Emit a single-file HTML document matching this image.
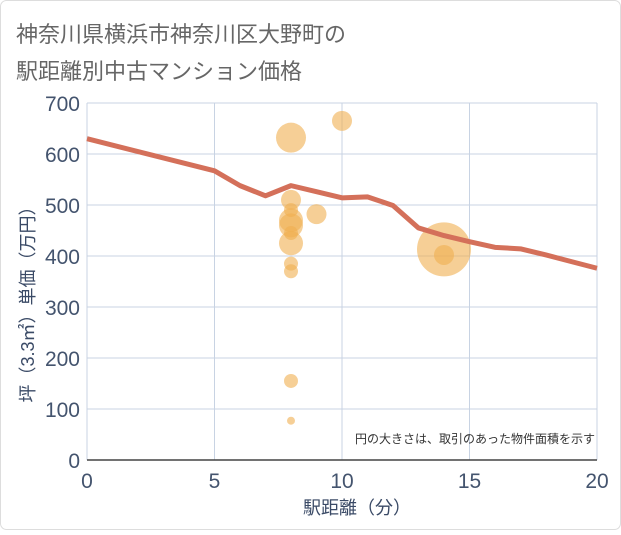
<!DOCTYPE html>
<html><head><meta charset="utf-8"><style>
body{margin:0;background:#fff;}
svg text{font-family:"Liberation Sans","Noto Sans CJK JP",sans-serif;}
</style></head><body>
<svg width="621" height="530" viewBox="0 0 621 530">
<rect x="0.5" y="0.5" width="620" height="529" rx="6" fill="#fff" stroke="#ddd"/>
<text x="16" y="42" font-size="22" fill="#666">神奈川県横浜市神奈川区大野町の</text>
<text x="16" y="79" font-size="22" fill="#666">駅距離別中古マンション価格</text>
<g id="grid"></g>
<g id="bubbles"></g>
<g id="line"></g>
<g id="axes"></g>
<text x="595" y="443" font-size="12" fill="#333" text-anchor="end">円の大きさは、取引のあった物件面積を示す</text>
<text x="357" y="514" font-size="18" fill="#3a4a66" text-anchor="middle">駅距離（分）</text>
<text transform="translate(34,300) rotate(-90)" font-size="18" fill="#3a4a66" text-anchor="middle">坪（3.3㎡）単価（万円）</text>
</svg>
<script>
const xTicks=[0,5,10,15,20];
const yTicks=[0,100,200,300,400,500,600,700];
const lineX=[0,5,6,7,8,9,10,11,12,13,14,15,16,17,18,19,20];
const lineY=[630,567,538,518,538,526,514,516,499,455,440,428,417,414,402,389,376];
const bubX=[8,8,8,8,8,8,8,8,8,8,8,9,10,14,14];
const bubY=[632,510,490,470,460,445,425,385,370,155,77,482,665,413,402];
const bubR=[15,10,7,12,12,7,12,7,7,7,4,10,10,27,10];
const X=v=>87+v*(597-87)/20, Y=v=>460-v*(460-103)/700;
const NS="http://www.w3.org/2000/svg";
function mk(tag,attrs,parent){const e=document.createElementNS(NS,tag);for(const k in attrs)e.setAttribute(k,attrs[k]);parent.appendChild(e);return e;}
const g=document.getElementById('grid'),ax=document.getElementById('axes'),bb=document.getElementById('bubbles'),ln=document.getElementById('line');
xTicks.forEach(t=>{
 const l=mk('line',{x1:X(t),x2:X(t),y1:Y(700),y2:Y(0),stroke:'#c8d3e3','stroke-width':1},g);
 
 
 const tx=mk('text',{x:X(t),y:488,'font-size':21,fill:'#44546e','text-anchor':'middle'},ax);
 tx.textContent=t;
 
 
});
yTicks.forEach(t=>{
 const l=mk('line',{x1:X(0),x2:X(20),y1:Y(t),y2:Y(t),stroke:'#c8d3e3','stroke-width':1},g);
 
 
 const tx=mk('text',{x:80,y:Y(t)+8,'font-size':21,fill:'#44546e','text-anchor':'end'},ax);
 tx.textContent=t;
 
 
});
const xa=mk('line',{x1:X(0),x2:X(20),y1:Y(0),y2:Y(0),stroke:'#444','stroke-width':1.5},ax);


bubX.forEach((x,i)=>{
 const c=mk('circle',{cx:X(x),cy:Y(bubY[i]),r:bubR[i],fill:'rgba(240,175,80,0.6)'},bb);
 
 
});
const p=mk('polyline',{points:lineX.map((x,i)=>X(x)+','+Y(lineY[i])).join(' '),fill:'none',stroke:'#d4705a','stroke-width':5,'stroke-linejoin':'round'},ln);


</script>
</body></html>
